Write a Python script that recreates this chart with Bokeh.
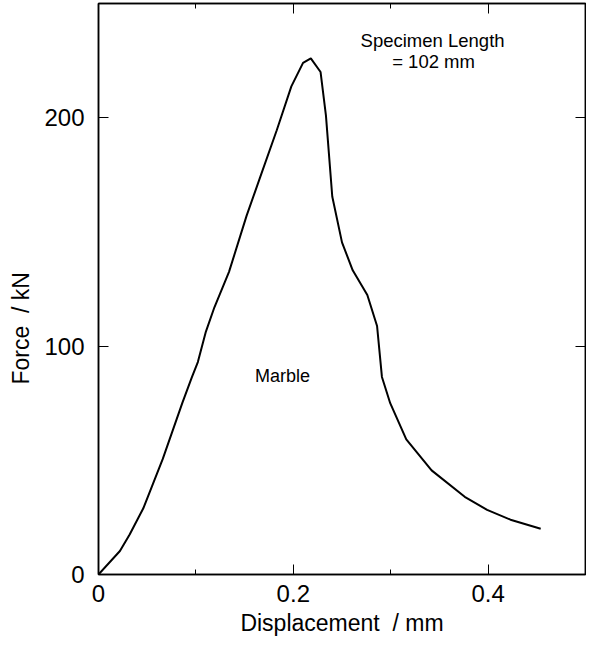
import math
from bokeh.plotting import figure
from bokeh.models import Range1d, LinearAxis, FixedTicker, Label, Title
from bokeh.embed import file_html
from bokeh.resources import INLINE

# Data
displacement = [0.0, 0.022, 0.032, 0.046, 0.066, 0.086, 0.096, 0.102, 0.110, 0.119,
                0.134, 0.152, 0.166, 0.183, 0.198, 0.210, 0.218, 0.228, 0.2335, 0.240,
                0.250, 0.261, 0.276, 0.286, 0.291, 0.2995, 0.316, 0.342, 0.376, 0.399,
                0.423, 0.454]
force = [0.0, 10.3, 17.5, 29.0, 50.6, 75.0, 86.5, 93.0, 106.0, 117.0,
         132.5, 157.0, 174.0, 194.5, 213.7, 224.0, 226.0, 220.0, 201.0, 165.5,
         145.4, 133.2, 122.4, 108.8, 86.5, 75.0, 59.2, 45.6, 34.0, 28.3,
         24.0, 20.0]

x_major = [0, 0.2, 0.4]
x_minor = [0.1, 0.3, 0.5]
y_major = [0, 100, 200]
x_labels = {0: "0", 0.2: "0.2", 0.4: "0.4"}

FONT = "Liberation Sans"

p = figure(width=586, height=638, output_backend="svg", toolbar_location=None,
           x_range=Range1d(0, 0.5), y_range=Range1d(0, 250),
           min_border_left=98, min_border_right=1, min_border_top=3, min_border_bottom=60,
           x_axis_location=None, y_axis_location=None)
p.grid.visible = False
p.outline_line_color = "black"
p.outline_line_width = 1.5
p.background_fill_color = "white"
p.border_fill_color = "white"

def style(ax, show_labels):
    ax.major_tick_in = 10
    ax.major_tick_out = 0
    ax.minor_tick_in = 5
    ax.minor_tick_out = 0
    ax.axis_line_color = "black"
    ax.axis_line_width = 1.5
    ax.major_tick_line_color = "black"
    ax.major_tick_line_width = 1
    ax.minor_tick_line_color = "black"
    ax.minor_tick_line_width = 1
    ax.major_label_text_font = FONT
    ax.major_label_text_font_size = "24px"
    ax.major_label_text_color = "black"
    ax.axis_label_text_font = FONT
    ax.axis_label_text_font_size = "23px"
    ax.axis_label_text_font_style = "normal"
    ax.axis_label_text_color = "black"
    if not show_labels:
        ax.major_label_text_font_size = "0px"
        ax.major_label_text_alpha = 0

xb = LinearAxis(ticker=FixedTicker(ticks=x_major, minor_ticks=x_minor),
                axis_label="Displacement \u00a0/ mm")
style(xb, True)
xb.major_label_overrides = x_labels
xb.major_label_standoff = 10
xb.axis_label_standoff = 5
p.add_layout(xb, "below")

xt = LinearAxis(ticker=FixedTicker(ticks=x_major, minor_ticks=x_minor))
style(xt, False)
p.add_layout(xt, "above")

yl = LinearAxis(ticker=FixedTicker(ticks=y_major, minor_ticks=[]))
style(yl, True)
yl.major_label_standoff = 14
p.add_layout(yl, "left")

yr = LinearAxis(ticker=FixedTicker(ticks=y_major, minor_ticks=[]))
style(yr, False)
p.add_layout(yr, "right")

p.line(displacement, force, line_color="black", line_width=2)

ytitle = Title(text="Force \u00a0/ kN", align="left", offset=190,
               vertical_align="top", standoff=12,
               text_font=FONT, text_font_size="23px", text_font_style="normal",
               text_color="black")
p.add_layout(ytitle, "left")

p.add_layout(Label(x=0.343, y=233.6, text="Specimen Length", text_align="center",
                   text_baseline="middle", text_font=FONT, text_font_size="18.5px",
                   text_color="black"))
p.add_layout(Label(x=0.344, y=224.6, text="= 102 mm", text_align="center",
                   text_baseline="middle", text_font=FONT, text_font_size="18.5px",
                   text_color="black"))
p.add_layout(Label(x=0.189, y=87.1, text="Marble", text_align="center",
                   text_baseline="middle", text_font=FONT, text_font_size="18px",
                   text_color="black"))

open("out.html", "w").write(file_html(p, INLINE))
